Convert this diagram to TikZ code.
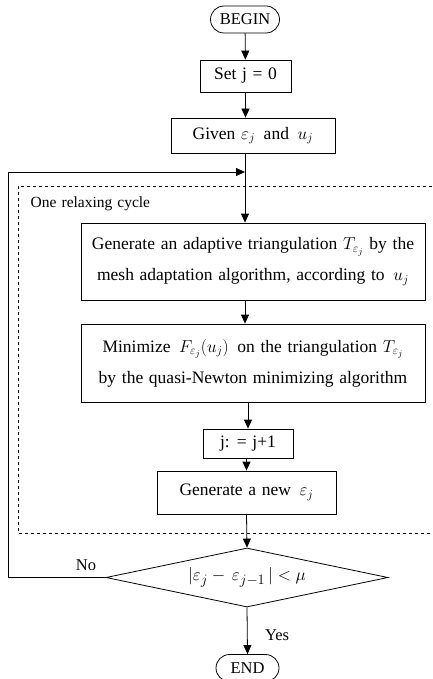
\documentclass[tikz,border=0pt]{standalone}
\usepackage{fontspec}
\setmainfont{Liberation Serif}[WordSpace=1.3]
\usetikzlibrary{shapes.geometric,shapes.misc,arrows.meta}

\begin{document}
\begin{tikzpicture}[x=1pt, y=-1pt, line width=0.8pt,
	stepbox/.style={draw, inner sep=0pt, align=center, font=\fontsize{17.5}{31}\selectfont},
	termbox/.style={draw, rounded rectangle, inner sep=0pt, minimum height=27pt, font=\fontsize{16.5}{17}\selectfont},
	arr/.style={-{Triangle[length=9pt, width=8pt]}}]
	\useasboundingbox (0,0) rectangle (432,679);
	
	% start and first steps
	\node [termbox, minimum width=69pt] (begin) at (245,19.5) {BEGIN};
	\node [stepbox, minimum width=91pt, minimum height=32pt] (set) at (245.5,76) {Set j = 0};
	\node [stepbox, minimum width=164pt, minimum height=35pt] (given) at (253,135.5) {Given $\varepsilon_j$\, and\, $u_j$};
	\coordinate (join) at (245,172);
	
	% the relaxing cycle
	\draw [dashed, line width=0.6pt] (432,186) -| (18,533) -- (432,533);
	\node [anchor=west, font=\fontsize{15.5}{17}\selectfont] (cyc) at (27,204) {One relaxing cycle};
	\node [stepbox, minimum width=344pt, minimum height=77pt] (mesh) at (253,261.5)
		{Generate an adaptive triangulation $T_{\varepsilon_j}$ by the\\mesh adaptation algorithm, according to\, $u_j$};
	\node [stepbox, minimum width=344pt, minimum height=78pt] (mini) at (253,363)
		{Minimize\, $F_{\varepsilon_j}(u_j)$\, on the triangulation $T_{\varepsilon_j}$\\by the quasi-Newton minimizing algorithm};
	\node [stepbox, minimum width=90pt, minimum height=29pt] (incr) at (248,443.5) {j: = j+1};
	\node [stepbox, minimum width=179pt, minimum height=43pt] (neweps) at (246.5,492.5) {Generate a new\, $\varepsilon_j$};
	
	% test and end
	\node [draw, diamond, inner sep=0pt, minimum width=282pt, minimum height=59pt, aspect=4.78,
		font=\fontsize{19}{21}\selectfont] (test) at (247,577.5) {$|\varepsilon_j-\,\varepsilon_{j-1}\,|<\mu$};
	\node [termbox, minimum width=63pt] (end) at (247.5,668) {END};
	\coordinate (back) at (8,172);
	
	\draw [arr] (begin) -- (set);
	\draw [arr] (set.south) -- (set.south |- given.north);
	\draw [arr] (join |- given.south) -- (join |- mesh.north);
	\draw [arr] (test.west) -| (back) -- (join);
	\draw [arr] (mesh.south -| join) -- (mini.north -| join);
	\draw [arr] (mini.south -| incr) -- (incr.north);
	\draw [arr] (incr.south -| neweps) -- (neweps.north);
	\draw [arr] (neweps.south) -- (test.north);
	\draw [arr] (test.south) -- (end.north);
	\node [font=\fontsize{16.5}{17}\selectfont] (no) at (86,565) {No};
	\node [font=\fontsize{16.5}{17}\selectfont] (yes) at (277,635) {Yes};
\end{tikzpicture}
\end{document}
